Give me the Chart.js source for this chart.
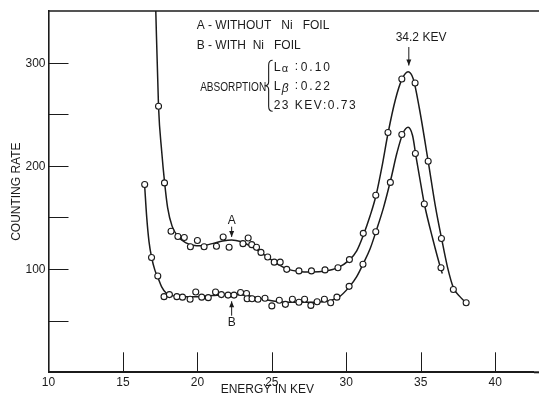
<!DOCTYPE html>
<html>
<head>
<meta charset="utf-8">
<title>Counting rate vs energy</title>
<script src="https://cdn.jsdelivr.net/npm/chart.js@4.4.1/dist/chart.umd.min.js"></script>
<style>
  html, body { margin: 0; padding: 0; background: #fff; overflow: hidden; }
  #chart { display: block; }
</style>
</head>
<body>
<canvas id="chart" width="539" height="395"></canvas>
<script>
// A - without Ni foil: measured points
const energyA = [17.39, 17.79, 18.23, 18.69, 19.12, 19.53, 20.0, 20.45, 21.28, 21.73, 22.13, 23.06, 23.41, 23.65, 23.97,
    24.27, 24.72, 25.16, 25.56, 26.0, 26.82, 27.66, 28.57, 29.44, 30.21, 31.14, 31.98, 32.8, 33.73, 34.62, 35.5,
    36.39, 37.19, 38.05];
const rateA = [258.5, 184, 137, 132, 131, 122, 128, 122, 122.5, 131.5, 121.5, 125, 130.5, 124, 121.5,
    116.5, 112, 107, 107, 100, 98.5, 98.5, 99.5, 101.5, 109.5, 135, 172, 233, 285, 281, 205,
    130, 80.5, 67.5];

// B - with Ni foil: measured points
const energyB = [16.46, 16.92, 17.34, 17.76, 18.12, 18.62, 19.0, 19.51, 19.89, 20.29, 20.73, 21.22, 21.61, 22.06,
    22.46, 22.9, 23.3, 23.34, 23.67, 24.07, 24.54, 25.0, 25.5, 25.91, 26.38, 26.82, 27.2, 27.62, 28.04, 28.53,
    28.95, 29.37, 30.19, 31.12, 31.98, 32.96, 33.73, 34.64, 35.24, 36.36];
const rateB = [182.5, 111.5, 93.5, 73.5, 75.5, 73.5, 73, 71, 78, 73, 72.5, 78, 75.5, 75,
    75, 77.5, 76.5, 71.5, 71.5, 71, 72, 64.5, 70, 66, 71, 68, 71, 65, 68.5, 71,
    67.5, 73, 83.5, 105, 136.5, 184.5, 231, 212.5, 163.5, 101.5];

// hand drawn curves
const curveEnergyA = [17.18, 17.39, 17.6, 17.8, 18.0, 18.3, 18.7, 19.2, 19.7, 20.3, 21.0, 21.7, 22.3, 22.9, 23.5,
    24.2, 24.8, 25.4, 26.0, 26.8, 27.7, 28.6, 29.4, 30.2, 30.7, 31.14, 31.6, 32.0, 32.4, 32.8, 33.3, 33.75,
    34.15, 34.5, 34.9, 35.5, 36.0, 36.4, 36.8, 37.2, 37.6, 38.05];
const curveRateA = [365, 258, 215, 184, 160, 142, 132, 126, 123.5, 123, 125, 127.5, 128.5, 127, 123,
    117, 111, 105, 100.5, 98, 97.5, 98.5, 101.5, 109, 118, 133, 152, 172, 200, 232, 265, 285,
    292, 285, 257, 205, 160, 130, 102, 82, 74, 67.5];

const curveEnergyB = [16.45, 16.6, 16.75, 16.92, 17.15, 17.35, 17.6, 17.9, 18.3, 19.0, 20.0, 21.0, 22.0, 22.6,
    23.3, 24.0, 24.8, 25.6, 26.5, 27.5, 28.4, 29.0, 29.5, 30.2, 30.7, 31.12, 31.6, 32.0, 32.5, 33.0, 33.4,
    33.8, 34.15, 34.45, 34.7, 35.0, 35.25, 35.8, 36.36, 36.45];
const curveRateB = [183, 150, 127, 112, 99, 92, 83, 77, 74.5, 73.5, 73.5, 74.5, 75.5, 75.5,
    74.5, 72.5, 70, 68.5, 68, 68, 68.5, 70, 73, 83, 93, 105, 120, 137, 160, 188, 213,
    232, 238, 230, 208, 183, 163, 130, 100, 96];

const yLabelValues = [100, 200, 300];

const ink = "#1b1b1b";
const sans = "'Liberation Sans', Arial, 'DejaVu Sans', sans-serif";

const toXY = (xs, ys) => xs.map((v, i) => ({ x: v, y: ys[i] }));

// frame top line, inward ticks, y labels and the lettering on the plot
const paperMarks = {
    id: "paperMarks",
    afterDraw(chart) {
        const { ctx, chartArea: area, scales: { x, y } } = chart;
        ctx.save();
        ctx.strokeStyle = ink;
        ctx.fillStyle = ink;

        ctx.lineWidth = 1.6;
        ctx.beginPath();
        ctx.moveTo(area.left, area.top);
        ctx.lineTo(chart.width, area.top);
        ctx.stroke();
        ctx.lineWidth = 2;
        ctx.beginPath();
        ctx.moveTo(area.right, area.bottom);
        ctx.lineTo(chart.width, area.bottom);
        ctx.stroke();

        ctx.lineWidth = 1;
        x.ticks.forEach((t) => {
            if (t.value <= x.min) return;
            const p = Math.round(x.getPixelForValue(t.value)) + 0.5;
            ctx.beginPath();
            ctx.moveTo(p, area.bottom);
            ctx.lineTo(p, area.bottom - 20);
            ctx.stroke();
        });
        y.ticks.forEach((t) => {
            if (t.value <= 0 || t.value >= 350) return;
            const p = Math.round(y.getPixelForValue(t.value)) + 0.5;
            ctx.beginPath();
            ctx.moveTo(area.left, p);
            ctx.lineTo(area.left + 20, p);
            ctx.stroke();
        });
        ctx.font = "12px " + sans;
        ctx.textAlign = "left";
        ctx.textBaseline = "middle";
        yLabelValues.forEach((v) => {
            const w = ctx.measureText(String(v)).width;
            ctx.fillText(String(v), area.left - 3 - w, y.getPixelForValue(v));
        });

        const arrow = (xv, fromV, toV) => {
            const px = x.getPixelForValue(xv);
            const y1 = y.getPixelForValue(fromV);
            const y2 = y.getPixelForValue(toV);
            const d = y2 > y1 ? 1 : -1;
            ctx.lineWidth = 1;
            ctx.beginPath();
            ctx.moveTo(px, y1);
            ctx.lineTo(px, y2);
            ctx.stroke();
            ctx.beginPath();
            ctx.moveTo(px, y2);
            ctx.lineTo(px - 2.5, y2 - d * 6);
            ctx.lineTo(px + 2.5, y2 - d * 6);
            ctx.closePath();
            ctx.fill();
        };
        const label = (text, xv, yv, font) => {
            ctx.font = font;
            ctx.textAlign = "center";
            ctx.textBaseline = "middle";
            ctx.fillText(text, x.getPixelForValue(xv), y.getPixelForValue(yv));
        };

        label("A", 22.3, 147.5, "12px " + sans);
        arrow(22.3, 141.5, 131.5);
        label("B", 22.3, 48, "12px " + sans);
        arrow(22.3, 55, 69);
        label("34.2 KEV", 35.02, 325.5, "12px " + sans);
        arrow(34.2, 316, 298);

        // x axis title sits left of centre in the original
        label("ENERGY IN KEV", 24.7, -16.5, "12px " + sans);

        // key block
        const kx = x.getPixelForValue(19.95);
        const ky = y.getPixelForValue(337.2);
        ctx.textAlign = "left";
        ctx.textBaseline = "middle";
        ctx.font = "12px " + sans;
        ctx.fillText("A - WITHOUT   Ni   FOIL", kx, ky);
        ctx.fillText("B - WITH  Ni   FOIL", kx, ky + 20);
        ctx.fillText("ABSORPTION", kx + 3.5, ky + 62, 66);

        const bx = kx + 72, bt = ky + 35, bb = ky + 86, bm = (bt + bb) / 2;
        ctx.lineWidth = 1.1;
        ctx.beginPath();
        ctx.moveTo(bx + 4, bt);
        ctx.quadraticCurveTo(bx, bt, bx, bt + 5);
        ctx.lineTo(bx, bm - 4);
        ctx.quadraticCurveTo(bx, bm, bx - 4, bm);
        ctx.quadraticCurveTo(bx, bm, bx, bm + 4);
        ctx.lineTo(bx, bb - 5);
        ctx.quadraticCurveTo(bx, bb, bx + 4, bb);
        ctx.stroke();

        const lx = kx + 77;
        ctx.font = "12.5px " + sans;
        ctx.fillText("L", lx, ky + 42);
        ctx.fillText("L", lx, ky + 61);
        ctx.font = "11px " + sans;
        ctx.fillText("\u03b1", lx + 8, ky + 44);
        ctx.font = "italic 12px " + sans;
        ctx.fillText("\u03b2", lx + 8, ky + 63);
        ctx.font = "12px " + sans;
        ctx.fillText(":", lx + 21, ky + 41);
        ctx.fillText(":", lx + 21, ky + 60);
        ctx.letterSpacing = "2px";
        ctx.fillText("0.10", lx + 27, ky + 42);
        ctx.fillText("0.22", lx + 27, ky + 61);
        ctx.letterSpacing = "1.5px";
        ctx.fillText("23 KEV:0.73", lx, ky + 80);
        ctx.letterSpacing = "0px";
        ctx.restore();
    },
};

const ctx = document.getElementById("chart").getContext("2d");
new Chart(ctx, {
    type: "scatter",
    data: {
        datasets: [
            {
                label: "A - without Ni foil",
                data: toXY(energyA, rateA),
                showLine: false,
                pointRadius: 3,
                pointBorderWidth: 1.1,
                pointBackgroundColor: "#fff",
                pointBorderColor: ink,
                order: 1,
            },
            {
                label: "B - with Ni foil",
                data: toXY(energyB, rateB),
                showLine: false,
                pointRadius: 3,
                pointBorderWidth: 1.1,
                pointBackgroundColor: "#fff",
                pointBorderColor: ink,
                order: 1,
            },
            {
                label: "curve A",
                data: toXY(curveEnergyA, curveRateA),
                showLine: true,
                cubicInterpolationMode: "monotone",
                borderColor: ink,
                borderWidth: 1.5,
                pointRadius: 0,
                order: 2,
            },
            {
                label: "curve B",
                data: toXY(curveEnergyB, curveRateB),
                showLine: true,
                cubicInterpolationMode: "monotone",
                borderColor: ink,
                borderWidth: 1.5,
                pointRadius: 0,
                order: 2,
            },
        ],
    },
    options: {
        responsive: false,
        animation: false,
        devicePixelRatio: 1,
        layout: { padding: { top: 11, right: 0, bottom: 0, left: 0 } },
        plugins: {
            legend: { display: false },
            tooltip: { enabled: false },
        },
        scales: {
            x: {
                type: "linear",
                min: 10,
                max: 42.6,
                grid: { display: false, drawTicks: false },
                border: { display: true, color: ink, width: 2 },
                ticks: {
                    stepSize: 5,
                    includeBounds: false,
                    autoSkip: false,
                    maxRotation: 0,
                    padding: 3,
                    color: ink,
                    font: { family: sans, size: 12 },
                },
                afterFit(scale) {
                    scale.height = 22.7;
                    scale.paddingLeft = 0;
                    scale.paddingRight = 0;
                },
            },
            y: {
                type: "linear",
                min: 0,
                max: 351,
                grid: { display: false, drawTicks: false },
                border: { display: true, color: ink, width: 1.6 },
                ticks: {
                    stepSize: 50,
                    includeBounds: false,
                    display: false,
                },
                title: {
                    display: true,
                    text: "COUNTING RATE",
                    color: ink,
                    font: { family: sans, size: 12 },
                    padding: { top: 9, bottom: 0 },
                },
                afterFit(scale) {
                    scale.width = 48.5;
                    scale.paddingTop = 0;
                    scale.paddingBottom = 0;
                },
            },
        },
    },
    plugins: [paperMarks],
});
</script>
</body>
</html>
